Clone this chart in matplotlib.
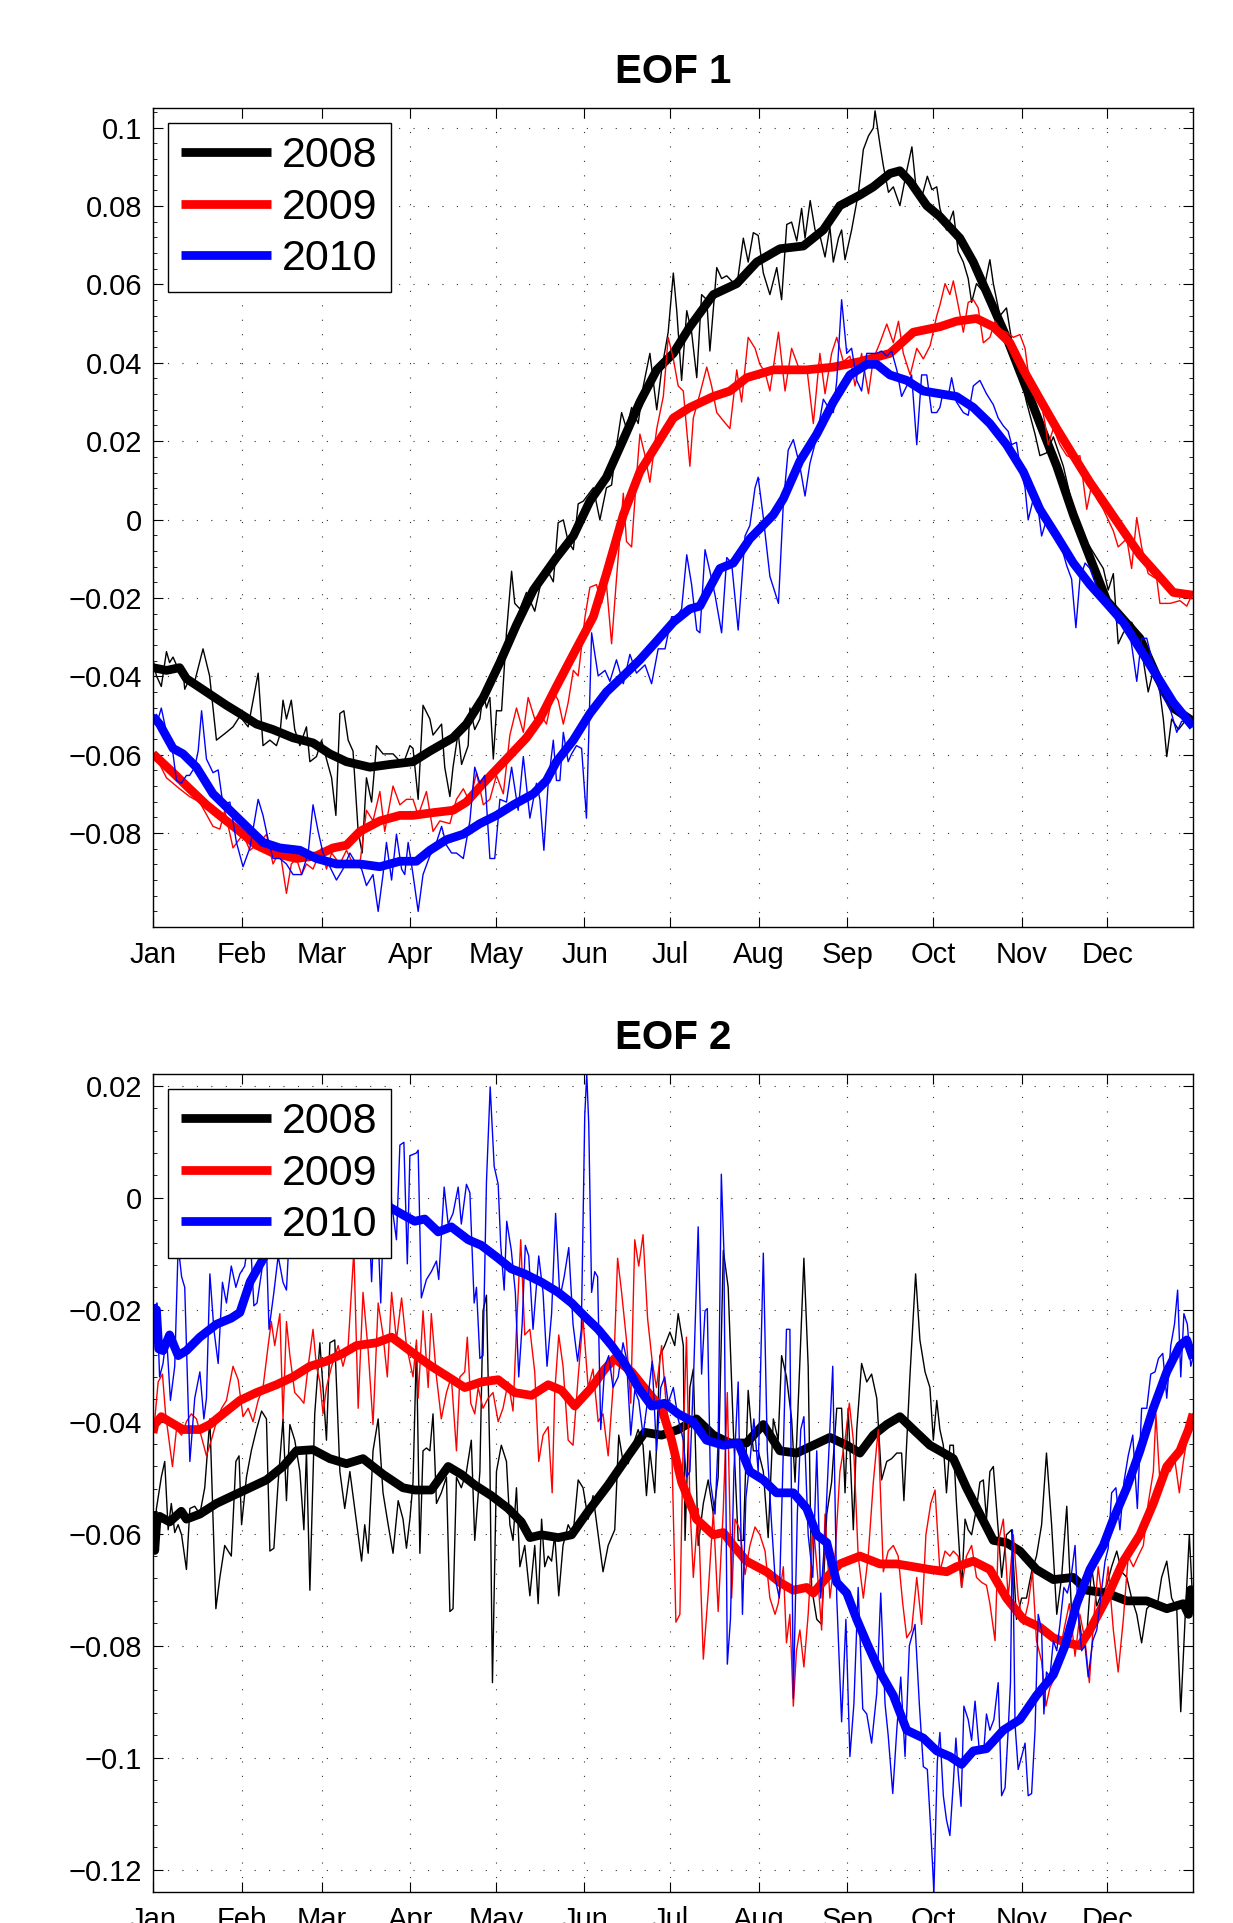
import numpy as np
import matplotlib
matplotlib.use("Agg")
import matplotlib.pyplot as plt

plt.rcParams['font.family'] = ['Liberation Sans', 'DejaVu Sans']

# day-of-year, value
# ---------------- EOF 1 ----------------
eof1_raw_2008 = np.array([
    [1.0, -0.0358], [2.2, -0.0399], [3.9, -0.0426], [5.7, -0.0337], [6.8, -0.0365], [8.0, -0.0351],
    [9.2, -0.0371], [11.5, -0.0385], [12.1, -0.0433], [13.8, -0.0406], [15.6, -0.0413], [18.5, -0.0330],
    [20.8, -0.0399], [23.2, -0.0563], [26.7, -0.0543], [29.0, -0.0529], [31.4, -0.0502], [34.3, -0.0529],
    [37.8, -0.0392], [39.5, -0.0577], [41.9, -0.0563], [44.2, -0.0577], [45.4, -0.0550], [46.5, -0.0461],
    [47.7, -0.0509], [49.4, -0.0461], [50.6, -0.0536], [52.4, -0.0577], [54.7, -0.0529], [55.9, -0.0618],
    [58.2, -0.0605], [60.0, -0.0563], [61.7, -0.0611], [63.5, -0.0659], [65.0, -0.0755], [66.4, -0.0495],
    [67.8, -0.0488], [69.3, -0.0563], [71.0, -0.0591], [72.8, -0.0796], [74.2, -0.0851], [75.7, -0.0659],
    [77.5, -0.0721], [79.2, -0.0577], [81.5, -0.0598], [85.0, -0.0598], [88.5, -0.0625], [90.9, -0.0577],
    [92.0, -0.0584], [93.8, -0.0714], [95.5, -0.0474], [97.9, -0.0509], [99.0, -0.0550], [102.0, -0.0522],
    [103.1, -0.0632], [104.9, -0.0707], [106.0, -0.0632], [107.8, -0.0543], [109.0, -0.0625], [111.3, -0.0577],
    [111.9, -0.0481], [113.6, -0.0536], [115.4, -0.0509], [116.6, -0.0440], [117.7, -0.0481], [118.9, -0.0454],
    [120.1, -0.0611], [121.2, -0.0488], [123.0, -0.0488], [124.7, -0.0289], [126.5, -0.0132], [127.6, -0.0214],
    [129.4, -0.0228], [131.7, -0.0186], [134.6, -0.0234], [136.4, -0.0173], [138.7, -0.0125], [141.1, -0.0159],
    [142.8, -0.0008], [144.6, -0.0001], [146.3, -0.0056], [148.1, -0.0077], [149.8, 0.0040], [151.6, 0.0047],
    [155.1, 0.0081], [157.4, -0.0001], [159.7, 0.0081], [161.5, 0.0088], [162.7, 0.0163], [165.0, 0.0273],
    [166.7, 0.0232], [168.5, 0.0286], [170.8, 0.0245], [172.6, 0.0341], [174.9, 0.0424], [177.3, 0.0280],
    [179.0, 0.0382], [181.3, 0.0478], [183.1, 0.0629], [184.3, 0.0533], [186.0, 0.0355], [187.8, 0.0533],
    [189.5, 0.0478], [191.3, 0.0362], [193.0, 0.0574], [194.8, 0.0561], [195.9, 0.0430], [198.3, 0.0643],
    [200.0, 0.0615], [201.8, 0.0622], [205.3, 0.0595], [207.6, 0.0718], [209.3, 0.0657], [211.1, 0.0732],
    [212.8, 0.0725], [214.6, 0.0629], [216.9, 0.0574], [219.3, 0.0643], [221.0, 0.0561], [222.8, 0.0753],
    [224.5, 0.0759], [226.3, 0.0711], [228.0, 0.0794], [229.2, 0.0718], [231.0, 0.0814], [232.7, 0.0739],
    [234.4, 0.0725], [236.2, 0.0670], [237.9, 0.0746], [239.1, 0.0657], [240.9, 0.0718], [242.0, 0.0739],
    [243.2, 0.0663], [245.5, 0.0739], [247.9, 0.0835], [249.6, 0.0944], [251.4, 0.0979], [253.1, 0.0999],
    [253.7, 0.1043], [255.4, 0.0958], [256.6, 0.0903], [258.4, 0.0835], [260.1, 0.0849], [262.4, 0.0801],
    [264.8, 0.0890], [266.6, 0.0951], [268.3, 0.0828], [270.0, 0.0821], [272.0, 0.0876], [273.6, 0.0842],
    [275.3, 0.0849], [276.4, 0.0794], [278.7, 0.0739], [281.1, 0.0787], [282.8, 0.0684], [284.6, 0.0657],
    [286.3, 0.0615], [287.5, 0.0554], [289.2, 0.0602], [291.6, 0.0581], [293.9, 0.0663], [295.1, 0.0602],
    [297.4, 0.0520], [299.7, 0.0540], [301.5, 0.0458], [304.4, 0.0376], [306.7, 0.0300], [309.7, 0.0218],
    [311.4, 0.0163], [313.7, 0.0170], [316.1, 0.0211], [319.6, 0.0136], [323.1, 0.0026], [326.6, -0.0042],
    [330.1, -0.0084], [333.6, -0.0125], [335.3, -0.0180], [337.1, -0.0138], [338.8, -0.0317], [340.6, -0.0289],
    [343.5, -0.0262], [346.4, -0.0303], [349.3, -0.0440], [351.1, -0.0385], [353.4, -0.0440], [354.6, -0.0509],
    [355.8, -0.0605], [357.5, -0.0509], [359.9, -0.0536], [362.8, -0.0509], [365.0, -0.0522]])

eof1_smooth_2008 = np.array([
    [1.0, -0.0378], [5.7, -0.0385], [10.3, -0.0378], [12.7, -0.0406], [19.7, -0.0440], [26.7, -0.0474],
    [31.4, -0.0495], [37.2, -0.0522], [43.0, -0.0536], [50.0, -0.0557], [57.0, -0.0570], [62.9, -0.0598],
    [68.7, -0.0618], [76.9, -0.0632], [83.9, -0.0625], [92.0, -0.0618], [97.9, -0.0591], [106.0, -0.0557],
    [110.7, -0.0522], [116.6, -0.0454], [122.4, -0.0365], [128.2, -0.0269], [134.1, -0.0180], [142.2, -0.0097],
    [148.1, -0.0042], [153.9, 0.0047], [159.7, 0.0108], [165.6, 0.0204], [171.4, 0.0300], [177.3, 0.0382],
    [183.1, 0.0424], [188.9, 0.0492], [197.1, 0.0574], [205.3, 0.0602], [212.3, 0.0657], [220.4, 0.0691],
    [228.6, 0.0698], [235.6, 0.0739], [241.4, 0.0801], [248.4, 0.0828], [253.1, 0.0849], [258.9, 0.0883],
    [262.4, 0.0890], [266.0, 0.0862], [271.8, 0.0801], [276.4, 0.0773], [283.4, 0.0718], [288.1, 0.0657],
    [293.9, 0.0561], [299.7, 0.0465], [305.6, 0.0355], [311.4, 0.0245], [317.3, 0.0136], [323.1, 0.0012],
    [328.9, -0.0097], [334.8, -0.0207], [340.6, -0.0255], [346.4, -0.0303], [352.3, -0.0399], [358.1, -0.0481],
    [365.0, -0.0515]])

eof1_raw_2009 = np.array([
    [1.0, -0.0591], [5.7, -0.0659], [10.3, -0.0687], [13.8, -0.0707], [17.3, -0.0721], [22.0, -0.0783],
    [24.4, -0.0790], [26.1, -0.0742], [29.0, -0.0838], [32.5, -0.0803], [34.9, -0.0844], [38.4, -0.0824],
    [40.7, -0.0803], [43.0, -0.0879], [45.4, -0.0844], [47.7, -0.0954], [49.4, -0.0879], [51.2, -0.0865],
    [53.0, -0.0906], [54.7, -0.0879], [57.0, -0.0892], [60.0, -0.0838], [61.7, -0.0892], [63.5, -0.0851],
    [66.4, -0.0879], [68.7, -0.0844], [71.0, -0.0879], [73.4, -0.0879], [75.7, -0.0742], [78.0, -0.0769],
    [80.4, -0.0694], [82.1, -0.0796], [85.0, -0.0680], [87.4, -0.0728], [89.7, -0.0714], [92.0, -0.0714],
    [93.8, -0.0755], [96.7, -0.0694], [99.0, -0.0796], [101.4, -0.0769], [104.9, -0.0776], [107.2, -0.0714],
    [109.6, -0.0687], [111.9, -0.0721], [114.2, -0.0646], [116.6, -0.0728], [118.9, -0.0714], [121.2, -0.0653],
    [123.6, -0.0700], [125.9, -0.0550], [128.2, -0.0481], [130.6, -0.0543], [132.3, -0.0454], [134.6, -0.0509],
    [136.4, -0.0495], [138.7, -0.0522], [141.1, -0.0440], [142.8, -0.0461], [144.6, -0.0522], [146.3, -0.0467],
    [148.1, -0.0385], [149.8, -0.0399], [152.2, -0.0248], [153.9, -0.0173], [156.2, -0.0166], [158.0, -0.0214],
    [159.7, -0.0166], [161.5, -0.0317], [163.2, -0.0152], [165.6, 0.0067], [166.7, -0.0056], [168.5, -0.0070],
    [170.2, 0.0108], [171.4, 0.0218], [173.2, 0.0163], [174.9, 0.0095], [177.3, 0.0232], [179.6, 0.0314],
    [181.3, 0.0465], [183.1, 0.0410], [184.8, 0.0341], [186.6, 0.0328], [188.9, 0.0136], [190.1, 0.0259],
    [192.4, 0.0321], [194.8, 0.0389], [196.5, 0.0341], [198.3, 0.0273], [200.6, 0.0252], [202.9, 0.0232],
    [205.3, 0.0382], [207.0, 0.0300], [209.3, 0.0465], [211.7, 0.0437], [213.4, 0.0396], [215.2, 0.0376],
    [216.9, 0.0328], [219.9, 0.0478], [222.2, 0.0328], [224.5, 0.0437], [226.9, 0.0389], [229.8, 0.0389],
    [232.1, 0.0245], [234.4, 0.0424], [236.2, 0.0321], [238.5, 0.0424], [240.3, 0.0465], [242.6, 0.0403],
    [244.9, 0.0417], [246.7, 0.0341], [249.0, 0.0424], [251.4, 0.0321], [253.1, 0.0410], [255.4, 0.0451],
    [257.8, 0.0499], [260.1, 0.0451], [261.9, 0.0506], [263.6, 0.0424], [266.0, 0.0369], [268.3, 0.0437],
    [270.6, 0.0410], [273.0, 0.0444], [275.3, 0.0520], [276.4, 0.0547], [278.2, 0.0602], [279.9, 0.0574],
    [281.1, 0.0609], [282.8, 0.0547], [284.6, 0.0478], [286.3, 0.0554], [288.1, 0.0561], [289.8, 0.0540],
    [291.6, 0.0451], [293.9, 0.0465], [295.7, 0.0506], [297.4, 0.0485], [299.7, 0.0478], [302.1, 0.0465],
    [304.4, 0.0472], [306.2, 0.0437], [307.3, 0.0376], [309.1, 0.0341], [311.4, 0.0314], [313.2, 0.0245],
    [314.3, 0.0191], [316.1, 0.0232], [318.4, 0.0191], [320.8, 0.0163], [323.1, 0.0156], [325.4, 0.0163],
    [327.8, 0.0026], [329.5, 0.0088], [331.3, 0.0053], [333.6, 0.0026], [337.1, -0.0029], [338.8, -0.0070],
    [341.8, -0.0049], [343.5, -0.0125], [345.3, 0.0005], [347.0, -0.0070], [349.3, -0.0138], [352.3, -0.0152],
    [353.4, -0.0214], [357.0, -0.0214], [360.4, -0.0207], [362.8, -0.0221], [365.0, -0.0186]])

eof1_smooth_2009 = np.array([
    [1.0, -0.0598], [8.0, -0.0646], [13.8, -0.0687], [19.7, -0.0728], [25.5, -0.0762], [31.4, -0.0796],
    [37.2, -0.0831], [43.0, -0.0851], [51.2, -0.0865], [58.2, -0.0858], [64.0, -0.0838], [68.7, -0.0831],
    [73.4, -0.0796], [80.4, -0.0769], [87.4, -0.0755], [92.0, -0.0755], [99.0, -0.0748], [106.0, -0.0742],
    [110.7, -0.0721], [116.6, -0.0673], [124.7, -0.0611], [131.7, -0.0557], [136.4, -0.0509], [142.2, -0.0426],
    [148.1, -0.0344], [155.1, -0.0248], [159.7, -0.0138], [165.6, 0.0012], [171.4, 0.0122], [177.3, 0.0191],
    [183.1, 0.0259], [188.9, 0.0286], [197.1, 0.0314], [202.9, 0.0328], [208.8, 0.0362], [218.1, 0.0382],
    [229.8, 0.0382], [239.1, 0.0389], [248.4, 0.0403], [258.9, 0.0424], [267.1, 0.0478], [276.4, 0.0492],
    [282.2, 0.0506], [289.2, 0.0513], [295.1, 0.0492], [300.9, 0.0451], [305.6, 0.0382], [311.4, 0.0307],
    [317.3, 0.0232], [323.1, 0.0163], [328.9, 0.0095], [334.8, 0.0033], [340.6, -0.0029], [346.4, -0.0090],
    [352.3, -0.0138], [358.1, -0.0186], [365.0, -0.0193]])

eof1_raw_2010 = np.array([
    [1.0, -0.0495], [2.8, -0.0509], [3.9, -0.0481], [5.7, -0.0543], [8.0, -0.0598], [9.2, -0.0666],
    [10.9, -0.0673], [12.7, -0.0653], [13.8, -0.0653], [15.6, -0.0632], [16.8, -0.0591], [18.0, -0.0488],
    [19.7, -0.0611], [22.0, -0.0646], [23.8, -0.0639], [25.5, -0.0728], [27.9, -0.0721], [30.2, -0.0824],
    [32.5, -0.0886], [34.9, -0.0838], [37.8, -0.0714], [39.5, -0.0755], [41.3, -0.0817], [43.0, -0.0865],
    [45.4, -0.0865], [47.7, -0.0879], [50.0, -0.0906], [53.0, -0.0906], [55.3, -0.0851], [57.0, -0.0728],
    [58.8, -0.0796], [60.5, -0.0851], [62.9, -0.0886], [65.2, -0.0920], [67.5, -0.0892], [69.9, -0.0851],
    [72.2, -0.0879], [74.0, -0.0892], [75.7, -0.0934], [78.0, -0.0906], [79.8, -0.1000], [81.5, -0.0906],
    [82.7, -0.0824], [84.5, -0.0920], [86.2, -0.0803], [88.0, -0.0892], [89.1, -0.0906], [90.3, -0.0824],
    [92.0, -0.0906], [93.8, -0.1000], [95.5, -0.0906], [97.9, -0.0858], [100.2, -0.0824], [102.0, -0.0783],
    [103.7, -0.0831], [105.5, -0.0851], [107.2, -0.0851], [109.6, -0.0865], [111.9, -0.0769], [113.6, -0.0632],
    [115.4, -0.0673], [117.1, -0.0653], [118.9, -0.0865], [120.6, -0.0865], [122.4, -0.0714], [124.7, -0.0721],
    [126.5, -0.0632], [128.8, -0.0742], [130.6, -0.0605], [132.9, -0.0762], [135.2, -0.0673], [136.4, -0.0714],
    [137.8, -0.0844], [139.3, -0.0673], [141.1, -0.0563], [142.2, -0.0666], [143.4, -0.0666], [144.6, -0.0543],
    [146.3, -0.0618], [147.5, -0.0598], [149.2, -0.0577], [151.0, -0.0584], [152.7, -0.0762], [154.5, -0.0289],
    [156.8, -0.0399], [159.2, -0.0385], [160.9, -0.0413], [163.2, -0.0358], [165.6, -0.0419], [167.9, -0.0344],
    [170.2, -0.0392], [173.2, -0.0371], [175.5, -0.0419], [177.8, -0.0330], [180.2, -0.0330], [182.5, -0.0248],
    [184.3, -0.0248], [186.0, -0.0228], [187.8, -0.0090], [189.5, -0.0166], [191.3, -0.0282], [192.4, -0.0289],
    [194.2, -0.0077], [195.9, -0.0132], [197.7, -0.0193], [200.0, -0.0289], [201.8, -0.0097], [203.5, -0.0111],
    [205.8, -0.0282], [208.2, -0.0042], [209.9, -0.0015], [211.7, 0.0081], [212.8, 0.0108], [214.6, 0.0005],
    [216.9, -0.0145], [219.9, -0.0214], [221.6, 0.0040], [223.3, 0.0177], [225.1, 0.0204], [227.4, 0.0136],
    [229.2, 0.0060], [230.9, 0.0143], [233.3, 0.0211], [235.6, 0.0307], [237.9, 0.0280], [239.1, 0.0273],
    [240.3, 0.0355], [242.0, 0.0561], [243.8, 0.0424], [245.5, 0.0437], [247.3, 0.0355], [249.0, 0.0328],
    [250.8, 0.0424], [252.5, 0.0424], [254.3, 0.0424], [256.0, 0.0430], [257.8, 0.0417], [259.5, 0.0430],
    [261.3, 0.0382], [263.0, 0.0314], [264.8, 0.0341], [266.5, 0.0369], [268.3, 0.0191], [270.0, 0.0369],
    [271.8, 0.0369], [273.5, 0.0273], [275.3, 0.0273], [276.4, 0.0286], [277.6, 0.0328], [279.3, 0.0314],
    [280.5, 0.0362], [282.2, 0.0300], [284.6, 0.0273], [286.3, 0.0266], [288.1, 0.0341], [290.4, 0.0355],
    [292.7, 0.0321], [295.1, 0.0293], [296.8, 0.0259], [298.6, 0.0239], [300.3, 0.0225], [301.5, 0.0191],
    [303.2, 0.0197], [304.4, 0.0136], [306.2, 0.0081], [307.3, -0.0001], [309.1, 0.0053], [310.8, 0.0026],
    [312.0, -0.0042], [313.7, -0.0001], [316.1, -0.0029], [318.4, -0.0056], [320.8, -0.0118], [322.5, -0.0152],
    [324.0, -0.0276], [325.4, -0.0152], [327.2, -0.0111], [328.9, -0.0125], [331.3, -0.0173], [333.6, -0.0193],
    [335.9, -0.0207], [338.3, -0.0262], [340.6, -0.0269], [342.9, -0.0289], [345.3, -0.0413], [347.0, -0.0303],
    [348.8, -0.0303], [351.1, -0.0371], [353.4, -0.0440], [356.9, -0.0481], [359.3, -0.0543], [361.0, -0.0515],
    [363.4, -0.0515], [365.0, -0.0529]])

eof1_smooth_2010 = np.array([
    [1.0, -0.0502], [3.3, -0.0522], [8.0, -0.0584], [11.5, -0.0598], [16.2, -0.0632], [22.0, -0.0700],
    [27.9, -0.0742], [33.7, -0.0783], [39.5, -0.0824], [45.4, -0.0838], [52.4, -0.0844], [58.2, -0.0865],
    [65.2, -0.0879], [73.4, -0.0879], [80.4, -0.0886], [87.4, -0.0872], [93.2, -0.0872], [97.9, -0.0844],
    [103.7, -0.0817], [109.6, -0.0803], [115.4, -0.0776], [121.2, -0.0755], [127.1, -0.0728], [134.1, -0.0700],
    [138.7, -0.0666], [142.2, -0.0618], [148.1, -0.0563], [153.9, -0.0495], [159.7, -0.0440], [165.6, -0.0399],
    [171.4, -0.0358], [177.3, -0.0310], [183.1, -0.0262], [188.9, -0.0228], [192.4, -0.0221], [199.4, -0.0125],
    [204.1, -0.0111], [209.9, -0.0049], [218.1, 0.0012], [221.6, 0.0053], [227.4, 0.0149], [233.3, 0.0218],
    [239.1, 0.0300], [244.9, 0.0369], [250.8, 0.0396], [254.3, 0.0396], [258.9, 0.0369], [264.8, 0.0355],
    [270.6, 0.0328], [276.4, 0.0321], [282.2, 0.0314], [288.1, 0.0286], [293.9, 0.0245], [299.7, 0.0191],
    [305.6, 0.0122], [311.4, 0.0026], [317.3, -0.0042], [323.1, -0.0111], [328.9, -0.0166], [334.8, -0.0214],
    [340.6, -0.0262], [346.4, -0.0330], [352.3, -0.0399], [358.1, -0.0467], [365.0, -0.0529]])

# ---------------- EOF 2 ----------------
eof2_raw_2008 = np.array([
    [1.2, -0.0631], [2.2, -0.0555], [3.9, -0.0499], [5.1, -0.0471], [6.3, -0.0593], [7.4, -0.0546],
    [8.6, -0.0598], [9.8, -0.0584], [11.0, -0.0602], [12.7, -0.0664], [13.9, -0.0555], [15.6, -0.0551],
    [17.4, -0.0565], [19.1, -0.0518], [20.9, -0.0395], [23.0, -0.0734], [24.4, -0.0678], [26.1, -0.0621],
    [28.4, -0.0640], [30.0, -0.0471], [31.1, -0.0461], [32.0, -0.0584], [33.7, -0.0499], [35.4, -0.0452],
    [37.2, -0.0414], [39.0, -0.0381], [40.7, -0.0395], [41.9, -0.0631], [43.3, -0.0626], [44.8, -0.0508],
    [46.5, -0.0395], [47.7, -0.0541], [48.9, -0.0405], [50.6, -0.0433], [52.4, -0.0489], [53.8, -0.0593],
    [54.7, -0.0452], [55.9, -0.0701], [57.6, -0.0386], [59.4, -0.0259], [60.5, -0.0339], [61.7, -0.0433],
    [62.9, -0.0259], [64.6, -0.0254], [66.4, -0.0489], [68.1, -0.0555], [69.9, -0.0489], [71.6, -0.0555],
    [74.0, -0.0649], [75.1, -0.0584], [76.3, -0.0635], [78.0, -0.0452], [79.8, -0.0395], [81.5, -0.0527],
    [83.3, -0.0584], [85.0, -0.0635], [86.8, -0.0541], [88.5, -0.0574], [89.7, -0.0626], [90.9, -0.0574],
    [92.0, -0.0508], [93.2, -0.0264], [94.4, -0.0635], [95.5, -0.0452], [96.7, -0.0447], [97.9, -0.0452],
    [99.0, -0.0386], [100.2, -0.0546], [101.9, -0.0527], [103.7, -0.0499], [104.9, -0.0739], [106.0, -0.0734],
    [107.2, -0.0499], [108.9, -0.0518], [110.7, -0.0489], [112.4, -0.0433], [113.6, -0.0612], [115.4, -0.0489],
    [116.5, -0.0202], [117.7, -0.0174], [118.9, -0.0471], [119.8, -0.0866], [121.2, -0.0489], [122.9, -0.0442],
    [124.7, -0.0471], [125.9, -0.0584], [127.0, -0.0612], [128.2, -0.0518], [129.4, -0.0659], [131.1, -0.0621],
    [132.9, -0.0711], [134.6, -0.0621], [135.8, -0.0725], [137.0, -0.0574], [138.1, -0.0659], [139.3, -0.0640],
    [140.5, -0.0649], [141.6, -0.0602], [143.0, -0.0711], [144.5, -0.0621], [146.3, -0.0584], [148.0, -0.0602],
    [149.8, -0.0504], [151.5, -0.0518], [153.3, -0.0574], [155.0, -0.0532], [156.8, -0.0602], [158.5, -0.0668],
    [160.3, -0.0621], [162.6, -0.0593], [164.0, -0.0424], [165.5, -0.0471], [167.3, -0.0475], [169.0, -0.0442],
    [170.8, -0.0414], [172.5, -0.0442], [173.7, -0.0532], [174.9, -0.0452], [176.6, -0.0527], [178.4, -0.0282],
    [180.1, -0.0264], [181.9, -0.0240], [183.6, -0.0264], [184.8, -0.0207], [186.6, -0.0264], [187.2, -0.0612],
    [188.9, -0.0339], [190.1, -0.0306], [191.8, -0.0621], [193.6, -0.0546], [195.3, -0.0504], [197.1, -0.0565],
    [198.8, -0.0499], [200.6, -0.0094], [202.3, -0.0160], [204.1, -0.0414], [205.8, -0.0612], [207.6, -0.0612],
    [209.3, -0.0344], [211.1, -0.0452], [212.8, -0.0452], [214.6, -0.0489], [216.3, -0.0607], [218.1, -0.0395],
    [219.8, -0.0433], [221.0, -0.0282], [222.7, -0.0320], [224.5, -0.0395], [225.7, -0.0508], [227.4, -0.0292],
    [228.8, -0.0108], [230.3, -0.0301], [231.5, -0.0696], [233.3, -0.0753], [235.0, -0.0762], [236.8, -0.0565],
    [238.5, -0.0508], [240.3, -0.0376], [242.0, -0.0376], [243.2, -0.0527], [244.3, -0.0376], [246.1, -0.0593],
    [247.3, -0.0414], [249.0, -0.0296], [250.8, -0.0329], [252.5, -0.0315], [254.3, -0.0358], [256.0, -0.0504],
    [257.8, -0.0471], [259.5, -0.0466], [261.3, -0.0456], [263.0, -0.0456], [263.8, -0.0541], [265.9, -0.0320],
    [267.9, -0.0136], [269.4, -0.0254], [271.2, -0.0311], [272.9, -0.0339], [274.1, -0.0433], [275.3, -0.0362],
    [276.4, -0.0414], [277.6, -0.0442], [278.7, -0.0527], [279.9, -0.0442], [281.1, -0.0442], [282.2, -0.0546],
    [284.0, -0.0696], [285.2, -0.0574], [286.3, -0.0593], [287.5, -0.0602], [289.2, -0.0555], [290.4, -0.0508],
    [291.6, -0.0504], [292.7, -0.0574], [293.9, -0.0489], [295.1, -0.0480], [296.8, -0.0593], [298.0, -0.0678],
    [299.7, -0.0602], [301.5, -0.0593], [303.2, -0.0753], [305.0, -0.0715], [306.7, -0.0715], [308.5, -0.0668],
    [310.2, -0.0640], [312.0, -0.0584], [313.7, -0.0456], [315.5, -0.0584], [317.3, -0.0744], [319.0, -0.0678],
    [320.8, -0.0551], [322.5, -0.0744], [324.3, -0.0715], [326.0, -0.0786], [327.8, -0.0781], [329.5, -0.0659],
    [331.3, -0.0729], [333.0, -0.0706], [334.8, -0.0692], [336.5, -0.0659], [338.3, -0.0631], [340.0, -0.0668],
    [341.8, -0.0678], [343.5, -0.0715], [345.3, -0.0744], [347.0, -0.0795], [348.8, -0.0734], [350.5, -0.0725],
    [352.3, -0.0734], [354.0, -0.0678], [355.8, -0.0649], [357.5, -0.0715], [359.3, -0.0734], [360.7, -0.0918],
    [362.2, -0.0753], [363.7, -0.0602], [364.9, -0.0725]])

eof2_smooth_2008 = np.array([
    [1.0, -0.0560], [1.6, -0.0630], [2.3, -0.0580], [3.3, -0.0569], [6.8, -0.0579], [10.9, -0.0560],
    [12.7, -0.0574], [17.4, -0.0565], [23.2, -0.0546], [29.0, -0.0532], [34.9, -0.0518], [40.7, -0.0504],
    [46.5, -0.0480], [51.2, -0.0452], [57.0, -0.0450], [62.9, -0.0466], [68.7, -0.0475], [74.5, -0.0466],
    [81.5, -0.0494], [88.5, -0.0518], [92.6, -0.0522], [98.4, -0.0522], [104.3, -0.0480], [108.9, -0.0494],
    [113.6, -0.0513], [119.4, -0.0532], [125.3, -0.0555], [129.9, -0.0579], [132.9, -0.0607], [137.0, -0.0602],
    [142.8, -0.0607], [147.5, -0.0602], [153.3, -0.0560], [160.3, -0.0513], [167.3, -0.0461], [173.1, -0.0419],
    [179.0, -0.0424], [184.8, -0.0414], [191.2, -0.0395], [197.1, -0.0424], [202.9, -0.0438], [208.7, -0.0438],
    [214.6, -0.0405], [220.4, -0.0452], [226.3, -0.0456], [232.1, -0.0442], [237.9, -0.0428], [243.8, -0.0442],
    [248.4, -0.0456], [253.1, -0.0424], [257.8, -0.0405], [262.4, -0.0391], [267.1, -0.0414], [272.9, -0.0442],
    [276.4, -0.0452], [281.1, -0.0466], [285.7, -0.0518], [290.4, -0.0565], [295.1, -0.0612], [299.7, -0.0616],
    [304.4, -0.0631], [310.2, -0.0664], [316.1, -0.0682], [323.1, -0.0678], [327.8, -0.0701], [334.8, -0.0706],
    [341.8, -0.0720], [348.8, -0.0720], [355.8, -0.0734], [361.6, -0.0725], [363.4, -0.0744], [364.2, -0.0700],
    [365.0, -0.0735]])

eof2_raw_2009 = np.array([
    [1.2, -0.0419], [2.8, -0.0329], [4.3, -0.0315], [5.4, -0.0386], [6.6, -0.0433], [7.8, -0.0480],
    [9.2, -0.0414], [11.0, -0.0424], [12.7, -0.0400], [14.4, -0.0386], [16.2, -0.0395], [18.0, -0.0428],
    [19.7, -0.0461], [21.4, -0.0433], [23.2, -0.0400], [25.0, -0.0376], [26.7, -0.0362], [29.0, -0.0301],
    [30.8, -0.0325], [32.5, -0.0391], [34.3, -0.0376], [36.0, -0.0400], [37.8, -0.0362], [39.5, -0.0339],
    [41.3, -0.0264], [42.4, -0.0221], [43.6, -0.0264], [45.4, -0.0207], [46.5, -0.0395], [47.7, -0.0221],
    [48.9, -0.0282], [50.6, -0.0348], [52.4, -0.0358], [53.8, -0.0367], [55.3, -0.0301], [57.0, -0.0235],
    [58.2, -0.0301], [59.4, -0.0329], [60.5, -0.0386], [61.7, -0.0339], [63.5, -0.0301], [65.8, -0.0264],
    [67.5, -0.0301], [69.3, -0.0264], [71.3, -0.0094], [72.8, -0.0376], [74.5, -0.0169], [76.3, -0.0273],
    [78.0, -0.0405], [79.8, -0.0188], [81.5, -0.0245], [83.0, -0.0320], [84.5, -0.0169], [86.2, -0.0254],
    [88.0, -0.0179], [89.7, -0.0264], [92.0, -0.0320], [93.2, -0.0254], [93.8, -0.0358], [95.5, -0.0202],
    [97.3, -0.0339], [98.4, -0.0207], [100.2, -0.0320], [101.9, -0.0395], [103.7, -0.0348], [105.4, -0.0320],
    [107.2, -0.0452], [108.4, -0.0320], [110.1, -0.0311], [111.0, -0.0249], [112.2, -0.0367], [113.6, -0.0386],
    [114.8, -0.0339], [116.5, -0.0376], [118.3, -0.0358], [120.0, -0.0348], [121.8, -0.0400], [123.5, -0.0376],
    [125.3, -0.0329], [127.0, -0.0381], [128.2, -0.0235], [129.7, -0.0075], [131.1, -0.0245], [132.9, -0.0235],
    [134.6, -0.0311], [136.0, -0.0471], [137.5, -0.0424], [139.3, -0.0409], [140.7, -0.0527], [141.6, -0.0348],
    [143.0, -0.0245], [144.5, -0.0301], [146.3, -0.0433], [148.0, -0.0442], [149.8, -0.0320], [151.5, -0.0216],
    [153.3, -0.0339], [155.0, -0.0306], [156.8, -0.0400], [158.5, -0.0386], [160.3, -0.0461], [162.0, -0.0339],
    [163.6, -0.0108], [165.0, -0.0169], [166.7, -0.0254], [168.2, -0.0367], [169.6, -0.0075], [171.0, -0.0122],
    [172.5, -0.0066], [174.1, -0.0216], [175.7, -0.0292], [177.2, -0.0339], [179.0, -0.0264], [180.7, -0.0376],
    [182.5, -0.0433], [184.0, -0.0758], [185.4, -0.0744], [186.6, -0.0424], [187.7, -0.0249], [188.9, -0.0546],
    [190.1, -0.0678], [191.8, -0.0555], [193.6, -0.0824], [195.3, -0.0706], [197.1, -0.0560], [198.8, -0.0739],
    [200.6, -0.0555], [202.0, -0.0348], [203.5, -0.0715], [204.7, -0.0574], [206.4, -0.0593], [208.2, -0.0673],
    [209.9, -0.0621], [211.7, -0.0588], [213.4, -0.0602], [215.2, -0.0631], [216.9, -0.0715], [218.7, -0.0744],
    [219.8, -0.0725], [221.6, -0.0659], [222.7, -0.0795], [223.9, -0.0744], [225.1, -0.0908], [226.2, -0.0809],
    [227.4, -0.0772], [228.8, -0.0838], [230.3, -0.0744], [232.1, -0.0584], [233.5, -0.0668], [235.0, -0.0772],
    [236.2, -0.0565], [237.9, -0.0715], [239.7, -0.0640], [241.4, -0.0489], [243.2, -0.0433], [244.7, -0.0367],
    [246.1, -0.0433], [247.8, -0.0640], [249.6, -0.0715], [251.3, -0.0640], [253.1, -0.0508], [254.8, -0.0414],
    [256.6, -0.0668], [258.3, -0.0631], [260.1, -0.0621], [261.8, -0.0640], [263.4, -0.0725], [264.8, -0.0786],
    [266.5, -0.0772], [268.3, -0.0678], [270.0, -0.0762], [271.5, -0.0602], [273.2, -0.0546], [274.7, -0.0522],
    [276.4, -0.0668], [278.2, -0.0631], [279.9, -0.0640], [281.1, -0.0631], [282.8, -0.0640], [284.0, -0.0696],
    [285.7, -0.0640], [287.5, -0.0621], [289.2, -0.0678], [291.0, -0.0687], [292.7, -0.0692], [293.9, -0.0725],
    [295.7, -0.0791], [296.8, -0.0616], [298.6, -0.0574], [300.3, -0.0715], [302.1, -0.0602], [303.8, -0.0715],
    [305.6, -0.0762], [307.3, -0.0725], [308.8, -0.0668], [310.2, -0.0791], [312.0, -0.0828], [313.5, -0.0908],
    [314.9, -0.0875], [316.7, -0.0856], [318.4, -0.0809], [319.8, -0.0772], [321.7, -0.0725], [323.7, -0.0819],
    [325.4, -0.0744], [327.2, -0.0791], [328.7, -0.0866], [330.1, -0.0762], [331.8, -0.0659], [333.6, -0.0734],
    [335.3, -0.0659], [337.1, -0.0772], [338.8, -0.0847], [340.6, -0.0753], [342.3, -0.0640], [344.1, -0.0659],
    [345.8, -0.0640], [347.6, -0.0621], [349.3, -0.0546], [351.1, -0.0489], [352.0, -0.0386], [353.4, -0.0508],
    [355.2, -0.0489], [356.9, -0.0489], [358.7, -0.0471], [360.2, -0.0527], [361.6, -0.0471], [363.4, -0.0414],
    [364.9, -0.0386]])

eof2_smooth_2009 = np.array([
    [1.0, -0.0420], [1.6, -0.0405], [3.9, -0.0391], [6.8, -0.0400], [11.5, -0.0414], [17.4, -0.0414],
    [20.9, -0.0405], [25.5, -0.0386], [31.4, -0.0362], [37.2, -0.0348], [44.2, -0.0334], [50.0, -0.0320],
    [55.9, -0.0301], [61.7, -0.0292], [67.5, -0.0278], [72.2, -0.0264], [79.2, -0.0259], [84.5, -0.0249],
    [88.5, -0.0264], [93.2, -0.0282], [98.4, -0.0301], [104.3, -0.0320], [110.1, -0.0339], [115.9, -0.0329],
    [121.8, -0.0325], [127.6, -0.0348], [133.5, -0.0353], [139.3, -0.0334], [144.0, -0.0344], [148.6, -0.0372],
    [154.5, -0.0339], [159.1, -0.0306], [162.6, -0.0287], [168.5, -0.0311], [174.3, -0.0348], [179.0, -0.0376],
    [182.5, -0.0433], [186.0, -0.0508], [191.2, -0.0574], [197.1, -0.0602], [200.6, -0.0598], [204.1, -0.0621],
    [208.7, -0.0649], [215.7, -0.0668], [220.4, -0.0687], [225.1, -0.0701], [229.8, -0.0696], [232.1, -0.0706],
    [236.8, -0.0678], [241.4, -0.0654], [248.4, -0.0640], [255.4, -0.0654], [261.3, -0.0654], [267.1, -0.0659],
    [272.9, -0.0664], [278.8, -0.0668], [282.2, -0.0659], [288.1, -0.0649], [293.9, -0.0664], [299.7, -0.0715],
    [305.6, -0.0753], [311.4, -0.0767], [316.1, -0.0786], [320.8, -0.0795], [325.4, -0.0800], [328.9, -0.0772],
    [334.8, -0.0715], [340.6, -0.0649], [346.4, -0.0602], [351.1, -0.0546], [355.8, -0.0480], [360.4, -0.0452],
    [363.4, -0.0414], [365.0, -0.0386]])

eof2_raw_2010 = np.array([
    [1.2, -0.0198], [2.4, -0.0188], [3.3, -0.0320], [4.5, -0.0296], [5.7, -0.0245], [7.1, -0.0362],
    [8.6, -0.0301], [9.8, -0.0085], [11.0, -0.0141], [12.1, -0.0160], [13.9, -0.0471], [15.6, -0.0358],
    [17.4, -0.0311], [18.8, -0.0395], [19.7, -0.0358], [20.9, -0.0136], [22.3, -0.0235], [23.8, -0.0296],
    [25.3, -0.0151], [26.7, -0.0188], [28.4, -0.0122], [30.0, -0.0160], [31.4, -0.0136], [33.1, -0.0122],
    [34.9, -0.0056], [36.3, -0.0193], [37.4, -0.0188], [39.0, -0.0132], [40.5, -0.0056], [41.6, -0.0235],
    [43.3, -0.0169], [44.8, -0.0104], [46.5, -0.0151], [47.7, -0.0165], [48.9, -0.0047], [50.5, 0.0010],
    [52.0, -0.0040], [54.0, 0.0020], [56.8, -0.0108], [58.5, 0.0030], [60.0, -0.0020], [62.0, 0.0060],
    [64.0, 0.0010], [66.0, 0.0080], [68.0, -0.0030], [70.0, 0.0050], [72.0, 0.0090], [74.0, 0.0020],
    [75.5, 0.0100], [77.5, -0.0150], [79.0, 0.0040], [80.7, -0.0188], [82.0, 0.0020], [83.3, 0.0136],
    [84.5, -0.0010], [86.2, -0.0075], [87.4, 0.0094], [88.8, 0.0099], [90.0, -0.0118], [90.9, 0.0075],
    [93.2, 0.0080], [93.8, 0.0085], [94.9, -0.0179], [96.7, -0.0146], [98.4, -0.0132], [100.2, -0.0113],
    [101.0, -0.0146], [102.9, 0.0019], [104.3, -0.0047], [106.0, -0.0028], [107.8, 0.0019], [108.9, -0.0047],
    [110.7, 0.0024], [111.9, 0.0009], [113.4, -0.0188], [114.2, -0.0160], [115.4, -0.0287], [116.5, -0.0282],
    [117.7, 0.0028], [119.0, 0.0198], [120.4, 0.0056], [121.8, 0.0024], [122.7, -0.0085], [123.9, -0.0165],
    [124.8, -0.0042], [126.4, -0.0094], [127.8, -0.0169], [129.0, -0.0320], [130.2, -0.0226], [131.3, -0.0085],
    [132.5, -0.0104], [134.0, -0.0235], [136.0, -0.0104], [137.5, -0.0169], [138.9, -0.0301], [140.5, -0.0207],
    [141.9, -0.0028], [143.4, -0.0179], [144.9, -0.0141], [146.5, -0.0089], [148.0, -0.0226], [149.6, -0.0292],
    [150.9, -0.0235], [152.1, 0.0146], [152.8, 0.0221], [153.5, 0.0132], [154.5, -0.0169], [155.6, -0.0132],
    [156.6, -0.0141], [157.7, -0.0414], [159.1, -0.0301], [160.5, -0.0282], [162.0, -0.0339], [163.8, -0.0320],
    [165.5, -0.0259], [166.7, -0.0287], [168.2, -0.0424], [169.6, -0.0344], [171.0, -0.0362], [172.5, -0.0424],
    [174.1, -0.0362], [175.7, -0.0292], [177.2, -0.0452], [178.7, -0.0339], [180.1, -0.0320], [181.3, -0.0367],
    [183.1, -0.0339], [184.8, -0.0395], [186.6, -0.0433], [187.7, -0.0499], [188.9, -0.0489], [190.3, -0.0301],
    [191.8, -0.0052], [193.0, -0.0315], [194.2, -0.0202], [195.0, -0.0198], [196.1, -0.0508], [197.7, -0.0565],
    [198.8, -0.0433], [199.9, 0.0042], [200.8, -0.0094], [202.0, -0.0833], [203.1, -0.0753], [204.3, -0.0489],
    [205.8, -0.0329], [207.3, -0.0744], [208.5, -0.0536], [209.9, -0.0471], [211.3, -0.0395], [212.8, -0.0489],
    [214.6, -0.0099], [216.0, -0.0452], [217.5, -0.0584], [218.7, -0.0678], [220.2, -0.0715], [221.6, -0.0452],
    [222.7, -0.0235], [223.9, -0.0235], [225.1, -0.0894], [226.5, -0.0565], [227.7, -0.0414], [228.8, -0.0391],
    [230.3, -0.0602], [231.9, -0.0678], [233.3, -0.0452], [234.7, -0.0715], [236.2, -0.0602], [237.7, -0.0433],
    [238.9, -0.0301], [240.3, -0.0715], [242.0, -0.0936], [243.5, -0.0753], [244.9, -0.0998], [246.3, -0.0904],
    [247.8, -0.0696], [249.4, -0.0913], [250.8, -0.0922], [252.5, -0.0974], [254.3, -0.0885], [255.7, -0.0706],
    [257.2, -0.0904], [258.3, -0.0960], [259.9, -0.1064], [261.3, -0.0951], [262.7, -0.0856], [264.2, -0.0998],
    [265.7, -0.0800], [267.7, -0.0762], [269.2, -0.0904], [270.6, -0.1016], [272.0, -0.1021], [273.2, -0.1129],
    [274.3, -0.1240], [275.5, -0.1007], [276.4, -0.0955], [277.6, -0.1068], [278.7, -0.1111], [279.9, -0.1139],
    [281.1, -0.1045], [282.0, -0.0965], [282.8, -0.1026], [283.8, -0.1087], [284.8, -0.0908], [286.3, -0.0932],
    [287.5, -0.0969], [288.7, -0.0899], [290.2, -0.0988], [291.8, -0.0984], [292.7, -0.0922], [293.9, -0.0951],
    [295.3, -0.0932], [296.8, -0.0866], [298.0, -0.1068], [299.2, -0.1054], [300.3, -0.0951], [301.1, -0.0866],
    [301.8, -0.0593], [302.7, -0.0941], [303.8, -0.1021], [305.0, -0.0998], [306.2, -0.0974], [307.3, -0.1068],
    [308.5, -0.1064], [309.7, -0.0951], [310.8, -0.0744], [312.0, -0.0772], [312.8, -0.0922], [313.7, -0.0847],
    [314.9, -0.0856], [316.1, -0.0791], [317.3, -0.0809], [318.4, -0.0762], [319.8, -0.0696], [321.0, -0.0706],
    [322.3, -0.0678], [323.7, -0.0621], [324.8, -0.0744], [326.0, -0.0809], [327.2, -0.0800], [328.3, -0.0856],
    [329.9, -0.0791], [331.3, -0.0772], [332.4, -0.0725], [334.2, -0.0649], [335.3, -0.0626], [336.5, -0.0527],
    [338.0, -0.0518], [339.4, -0.0593], [340.8, -0.0508], [342.3, -0.0461], [343.9, -0.0424], [345.5, -0.0555],
    [347.0, -0.0376], [348.8, -0.0376], [350.2, -0.0315], [351.7, -0.0311], [352.9, -0.0287], [354.4, -0.0278],
    [355.8, -0.0358], [357.2, -0.0264], [358.5, -0.0226], [359.6, -0.0165], [360.7, -0.0320], [361.8, -0.0207],
    [363.0, -0.0226], [364.2, -0.0301], [364.9, -0.0287]])

eof2_smooth_2010 = np.array([
    [1.0, -0.0190], [1.6, -0.0250], [2.2, -0.0200], [3.0, -0.0270], [4.5, -0.0273], [6.8, -0.0245],
    [9.8, -0.0282], [12.7, -0.0273], [17.4, -0.0249], [23.2, -0.0226], [28.4, -0.0215], [31.4, -0.0205],
    [35.0, -0.0150], [40.0, -0.0105], [44.0, -0.0075], [50.0, -0.0040], [56.0, -0.0020], [62.0, -0.0010],
    [70.0, 0.0000], [77.0, -0.0010], [83.2, -0.0015], [89.7, -0.0034], [92.6, -0.0042], [96.1, -0.0038],
    [100.8, -0.0061], [105.4, -0.0052], [111.3, -0.0075], [115.9, -0.0085], [121.8, -0.0108], [126.4, -0.0127],
    [131.1, -0.0136], [137.0, -0.0151], [142.8, -0.0169], [147.5, -0.0188], [152.1, -0.0212], [156.8, -0.0235],
    [161.5, -0.0264], [166.1, -0.0296], [170.8, -0.0339], [175.5, -0.0372], [180.1, -0.0367], [184.8, -0.0386],
    [190.1, -0.0400], [194.7, -0.0433], [200.6, -0.0442], [205.8, -0.0438], [209.9, -0.0489], [214.6, -0.0504],
    [219.2, -0.0527], [225.1, -0.0527], [229.8, -0.0555], [233.3, -0.0602], [236.8, -0.0616], [240.3, -0.0687],
    [243.8, -0.0706], [247.3, -0.0753], [250.8, -0.0795], [255.4, -0.0847], [260.1, -0.0889], [264.8, -0.0951],
    [270.6, -0.0965], [275.3, -0.0988], [279.9, -0.0998], [284.0, -0.1012], [288.1, -0.0988], [292.7, -0.0984],
    [298.6, -0.0951], [304.4, -0.0932], [310.2, -0.0889], [316.1, -0.0852], [320.2, -0.0800], [324.3, -0.0725],
    [328.9, -0.0664], [333.6, -0.0621], [337.1, -0.0574], [341.8, -0.0518], [346.4, -0.0452], [351.1, -0.0376],
    [355.8, -0.0311], [360.4, -0.0264], [362.8, -0.0254], [365.0, -0.0287]])

years = ['2008', '2009', '2010']
colors = ['#000000', '#ff0000', '#0000ff']
month_days = [1, 32, 60, 91, 121, 152, 182, 213, 244, 274, 305, 335]
month_names = ['Jan', 'Feb', 'Mar', 'Apr', 'May', 'Jun', 'Jul', 'Aug', 'Sep', 'Oct', 'Nov', 'Dec']
eof1_yticks = [-0.08, -0.06, -0.04, -0.02, 0, 0.02, 0.04, 0.06, 0.08, 0.1]
eof1_ylabels = ['\u22120.08', '\u22120.06', '\u22120.04', '\u22120.02', '0', '0.02', '0.04', '0.06', '0.08', '0.1']
eof2_yticks = [-0.12, -0.1, -0.08, -0.06, -0.04, -0.02, 0, 0.02]
eof2_ylabels = ['\u22120.12', '\u22120.1', '\u22120.08', '\u22120.06', '\u22120.04', '\u22120.02', '0', '0.02']


def draw_panel(ax, raws, smooths, title, yticks, ylabels, ylim):
    handles = []
    for raw, sm, c in zip(raws, smooths, colors):
        ax.plot(raw[:, 0], raw[:, 1], color=c, lw=1.0)
        h, = ax.plot(sm[:, 0], sm[:, 1], color=c, lw=6.3, solid_capstyle='butt')
        handles.append(h)
    ax.set_xlim(1, 365)
    ax.set_ylim(*ylim)
    ax.set_xticks(month_days)
    ax.set_xticklabels(month_names)
    ax.set_yticks(yticks)
    ax.set_yticklabels(ylabels)
    ax.set_yticks(np.arange(ylim[0] - ylim[0] % 0.004, ylim[1], 0.004), minor=True)
    ax.tick_params(direction='in', length=7, width=0.8, top=True, right=True, labelsize=21)
    ax.tick_params(axis='x', pad=10)
    ax.tick_params(axis='y', pad=8)
    ax.tick_params(axis='y', which='minor', direction='in', length=3, width=0.6,
                   left=True, right=True)
    ax.grid(True, which='major', color='0.2', linestyle=(0, (1, 12)), linewidth=0.8)
    ax.set_axisbelow(True)
    for s in ax.spines.values():
        s.set_linewidth(1.0)
    ax.set_title(title, fontsize=29, fontweight='bold', pad=18)
    leg = ax.legend(handles, years, loc='upper left', fontsize=31, fancybox=False,
                    edgecolor='k', framealpha=1, borderaxespad=0.35, borderpad=0.3,
                    labelspacing=0.27, handlelength=2.1, handletextpad=0.25)
    leg.get_frame().set_linewidth(1.0)


fig = plt.figure(figsize=(12.33, 19.23), dpi=100)
ax1 = fig.add_axes([0.1241, 0.5179, 0.8435, 0.4259])
ax2 = fig.add_axes([0.1241, 0.0161, 0.8435, 0.4254])

draw_panel(ax1, [eof1_raw_2008, eof1_raw_2009, eof1_raw_2010],
           [eof1_smooth_2008, eof1_smooth_2009, eof1_smooth_2010],
           'EOF 1', eof1_yticks, eof1_ylabels, (-0.1, 0.105))
draw_panel(ax2, [eof2_raw_2008, eof2_raw_2009, eof2_raw_2010],
           [eof2_smooth_2008, eof2_smooth_2009, eof2_smooth_2010],
           'EOF 2', eof2_yticks, eof2_ylabels, (-0.1236, 0.0221))

fig.savefig('out.png', dpi=100)
